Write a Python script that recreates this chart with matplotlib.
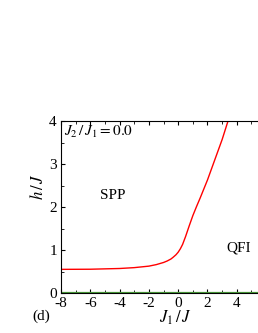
import matplotlib
matplotlib.use("Agg")
import matplotlib.pyplot as plt
from matplotlib.ticker import MultipleLocator

plt.rcParams['font.family'] = ['Liberation Serif', 'DejaVu Serif']
plt.rcParams['mathtext.fontset'] = 'stix'

J1 = [-8, -6, -4, -3, -2, -1.5, -1, -0.75, -0.5, -0.35, -0.15, 0, 0.15, 0.3, 0.5, 0.75, 1, 1.25, 1.5, 2, 2.5, 3, 3.4]
h = [0.55, 0.553, 0.57, 0.59, 0.625, 0.66, 0.71, 0.745, 0.79, 0.83, 0.89, 0.95, 1.03, 1.13, 1.31, 1.56, 1.8, 2.01, 2.21, 2.63, 3.1, 3.57, 4.0]

fig = plt.figure(figsize=(2.58, 3.33), dpi=100)
ax = fig.add_axes([0.2364, 0.1201, 0.795, 0.5165])
ax.plot(J1, h, color='red', lw=1.0)
ax.axhline(0, color='#4a9a3a', lw=1.6)
ax.set_xlim(-8, 6)
ax.set_ylim(0, 4)
ax.xaxis.set_minor_locator(MultipleLocator(1))
ax.yaxis.set_major_locator(MultipleLocator(1))
ax.yaxis.set_minor_locator(MultipleLocator(0.5))
ax.tick_params(which='both', direction='in', top=True, right=False, labelsize=11)
ax.tick_params(axis='x', pad=3)
ax.tick_params(axis='y', pad=3)
ax.tick_params(which='major', length=3)
ax.tick_params(which='minor', length=2)
ax.spines['right'].set_visible(False)
ax.set_xticks([-8, -6, -4, -2, 0, 2, 4])
ax.set_xticklabels(['-8', '-6', '-4', '-2', '0', '2', '4'])

ax.text(-7.8, 3.93, r'$J_2\,/\,J_1 = 0.0$', fontsize=11, va='top', ha='left')
ax.text(-4.45, 2.26, 'SPP', fontsize=11, ha='center', va='center')
ax.text(4.15, 1.05, 'QFI', fontsize=11, ha='center', va='center')
ax.set_xlabel(r'$J_1\,/\,J$', fontsize=12, va='center')
ax.set_ylabel(r'$h\,/\,J$', fontsize=12, va='center')
ax.xaxis.set_label_coords(0.556, -0.145)
ax.yaxis.set_label_coords(-0.112, 0.62)
fig.text(41/258, 1-316/333, '(d)', fontsize=11, ha='center', va='center')

fig.savefig('out.png', dpi=100)
